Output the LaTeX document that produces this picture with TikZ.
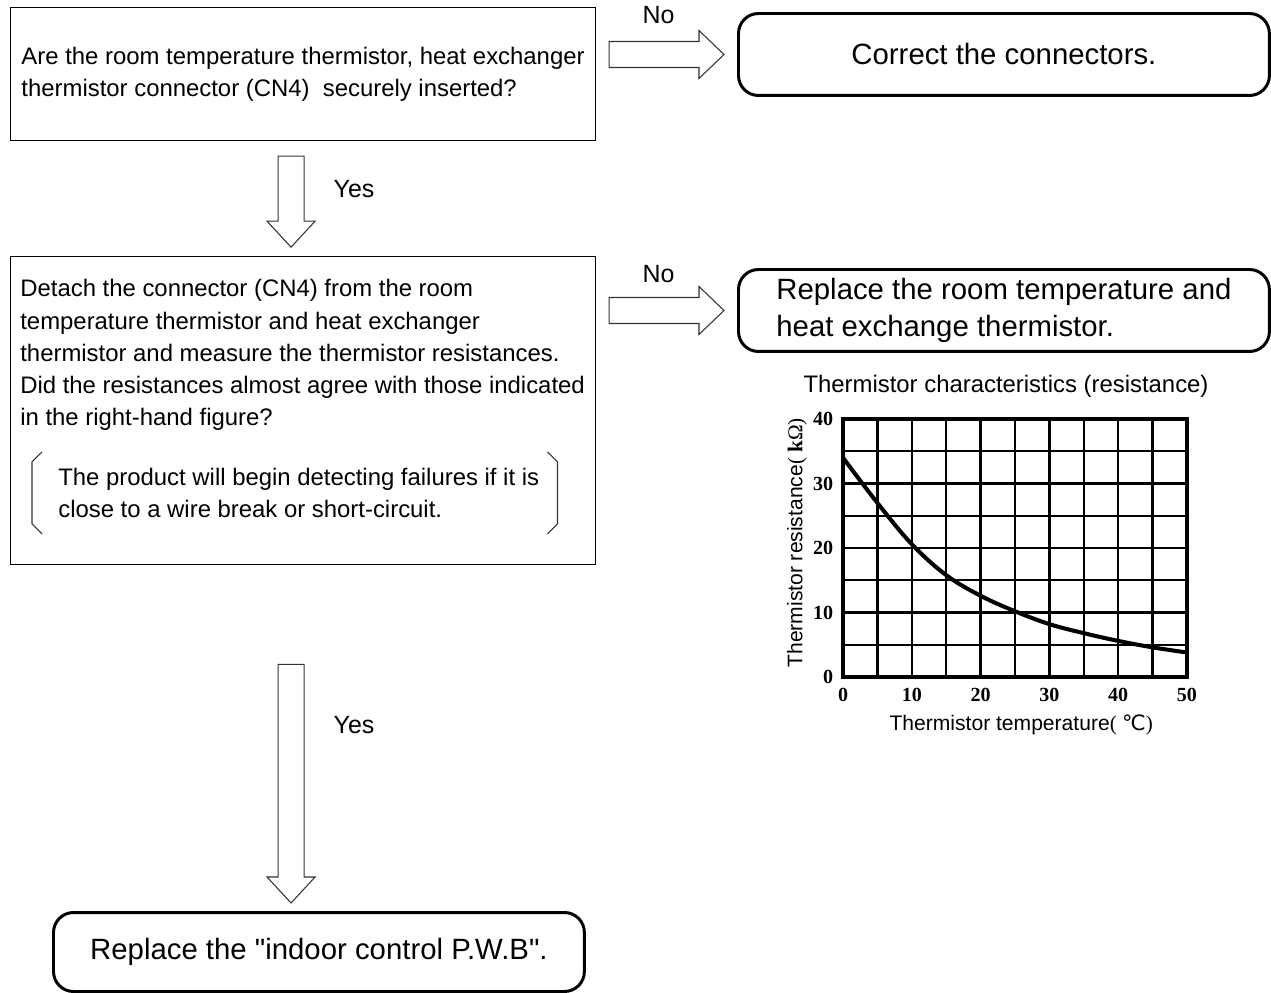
\documentclass[tikz,border=0pt]{standalone}
\usepackage{fontspec}
\setmainfont{Liberation Sans}
\newfontfamily\numfont{Liberation Serif}
\newfontfamily\symfont{DejaVu Sans}
\usetikzlibrary{positioning,calc}

\newcommand{\bodyfont}{\fontsize{13.6}{18.3}\selectfont}
\newcommand{\bigfont}{\fontsize{16.7}{21}\selectfont}
\newcommand{\lblfont}{\fontsize{14.2}{17}\selectfont}
\newcommand{\axfont}{\fontsize{12}{14}\selectfont}
\newcommand{\tickfont}{\numfont\bfseries\fontsize{11.4}{13}\selectfont}

% hollow block arrows, #1 = tail, #2 = tip
\newcommand{\hollowright}[2]{%
  \draw[hollow] ($(#1)+(0,-13)$) -- ($(#2)+(-25,-13)$) -- ($(#2)+(-25,-24)$) -- (#2)
    -- ($(#2)+(-25,24)$) -- ($(#2)+(-25,13)$) -- ($(#1)+(0,13)$) -- cycle;}
\newcommand{\hollowdown}[2]{%
  \draw[hollow] ($(#1)+(-13,0)$) -- ($(#2)+(-13,-26)$) -- ($(#2)+(-24,-26)$) -- (#2)
    -- ($(#2)+(24,-26)$) -- ($(#2)+(13,-26)$) -- ($(#1)+(13,0)$) -- cycle;}

\begin{document}
\begin{tikzpicture}[
  x=0.02cm, y=-0.02cm,
  qbox/.style={draw, line width=0.7pt, minimum width=11.7cm, align=left, font=\bodyfont},
  qtext/.style={inner sep=0pt, align=left, font=\bodyfont},
  rbox/.style={draw, line width=1.7pt, rounded corners=0.4cm, minimum width=10.62cm,
               minimum height=1.64cm, font=\bigfont},
  hollow/.style={draw=black!80, line width=0.6pt, fill=white},
  lbl/.style={font=\lblfont, inner sep=0pt},
  bracket/.style={draw=black!80, line width=0.6pt},
  gridline/.style={line width=1.3pt},
  frame/.style={line width=2.2pt},
  curve/.style={line width=2.3pt, line join=round},
  tick/.style={font=\tickfont, inner sep=0pt}
]
\useasboundingbox (0,0) rectangle (1271,992);

% questions
\node[qbox, anchor=north west, minimum height=2.66cm] (q1) at (10,7)
  {Are the room temperature thermistor, heat exchanger\\thermistor connector (CN4)\ \ securely inserted?};
\node[qbox, below=2.3cm of q1, minimum height=6.16cm] (q2) {};
\node[qtext, anchor=north west] (q2t) at ($(q2.north west)+(10,23)$)
  {Detach the connector (CN4) from the room\\temperature thermistor and heat exchanger\\thermistor and measure the thermistor resistances.\\Did the resistances almost agree with those indicated\\in the right-hand figure?};
\node[qtext, anchor=north west] (note) at ($(q2t.south west)+(38,37)$)
  {The product will begin detecting failures if it is\\close to a wire break or short-circuit.};
\draw[bracket] ($(note.west)+(-16,-41)$) -- ($(note.west)+(-26,-31)$) -- ($(note.west)+(-26,31)$) -- ($(note.west)+(-16,41)$);
\draw[bracket] ($(note.east)+(8,-41)$) -- ($(note.east)+(18,-31)$) -- ($(note.east)+(18,31)$) -- ($(note.east)+(8,41)$);

% results
\node[rbox, anchor=north west, align=center] (r1) at (737,12) {Correct the connectors.};
\node[rbox, anchor=north west, align=left] (r2) at (737,268) {Replace the room temperature and\\heat exchange thermistor.};
\node[rbox, anchor=north west, align=center, minimum height=1.58cm] (r3) at (52,911)
  {Replace the \textquotedbl indoor control P.W.B\textquotedbl.};

% arrows
\coordinate (a1t) at ($(q1.east |- r1.west)+(13,0)$);
\coordinate (a1h) at ($(r1.west)+(-13,0)$);
\coordinate (a2t) at ($(q2.east |- r2.west)+(13,0)$);
\coordinate (a2h) at ($(r2.west)+(-13,0)$);
\coordinate (v1t) at ($(q1.south)+(-12,15)$);
\coordinate (v1h) at ($(q2.north)+(-12,-9)$);
\coordinate (v2t) at ($(q2.south)+(-12,99)$);
\coordinate (v2h) at ($(r3.north -| v2t)+(0,-8)$);
\hollowright{a1t}{a1h}
\hollowright{a2t}{a2h}
\hollowdown{v1t}{v1h}
\hollowdown{v2t}{v2h}

\node[lbl] (no1) at ($(a1t)!0.5!(a1h)+(-8,-39)$) {No};
\node[lbl] (no2) at ($(a2t)!0.5!(a2h)+(-8,-36)$) {No};
\node[lbl] (yes1) at ($(v1t)+(63,33)$) {Yes};
\node[lbl] (yes2) at ($(v2t)+(63,61)$) {Yes};

% thermistor chart
\node[font=\bodyfont, inner sep=0pt] (ctitle) at (1006,386) {Thermistor characteristics (resistance)};
\begin{scope}[shift={(843,677)}, x=0.1376cm, y=0.129cm]
  \draw[gridline] (0,0) grid[xstep=5, ystep=5] (50,40);
  \draw[frame] (0,0) rectangle (50,40);
  \draw[curve] plot[smooth, tension=0.6] coordinates {(0,34) (5,27) (10,20.6) (15,15.8) (20,12.6) (25,10.2) (30,8.2) (35,6.8) (40,5.6) (45,4.6) (50,3.8)};
  \foreach \v in {0,10,...,40}
    \node[tick, anchor=east] (yt\v) at (-1.4,\v) {\v};
  \foreach \v in {0,10,...,50}
    \node[tick] (xt\v) at (\v,-2.8) {\v};
  \node[font=\axfont, rotate=90, inner sep=0pt] (ylab) at (-6.7,20.8)
    {Thermistor resistance{\numfont(\ \textbf{k}Ω)}};
  \node[font=\axfont, inner sep=0pt] (xlab) at (25.9,-7.4)
    {Thermistor temperature{\numfont(\ }{\symfont ℃}{\numfont)}};
\end{scope}
\end{tikzpicture}
\end{document}
